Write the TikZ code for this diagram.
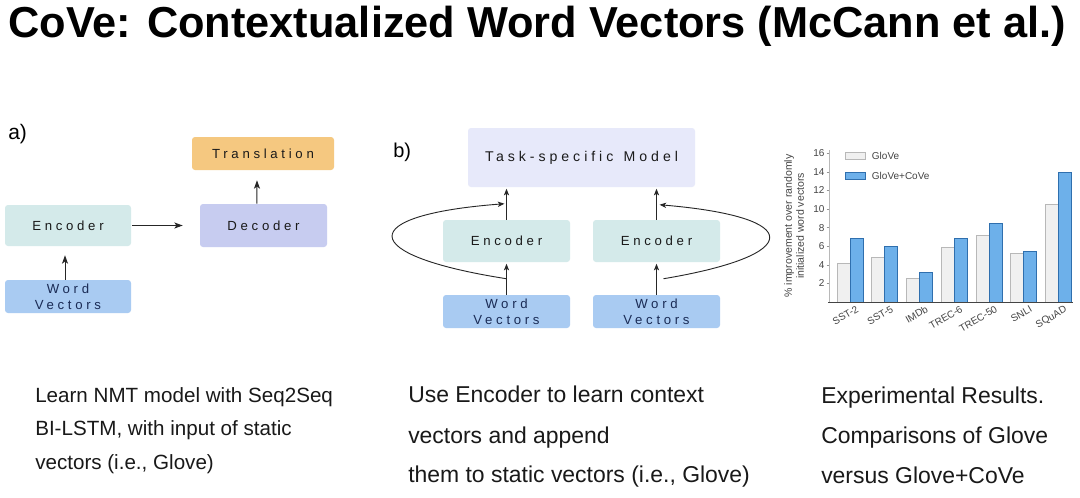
\documentclass[tikz,border=0pt]{standalone}
\usepackage{fontspec}
\setmainfont{Liberation Sans}
\newfontfamily\boxfont[LetterSpace=28]{Liberation Sans}
\usetikzlibrary{arrows.meta,calc}
\newlength{\pxu}\setlength{\pxu}{0.75pt}
\definecolor{encC}{HTML}{D4EAEA}
\definecolor{decC}{HTML}{C7CCF0}
\definecolor{trC}{HTML}{F5C880}
\definecolor{wvC}{HTML}{A9CBF2}
\definecolor{taskC}{HTML}{E7E9FA}
\definecolor{boxtxt}{HTML}{1A1A1A}
\definecolor{wvtxt}{HTML}{1A2B55}
\definecolor{gloveF}{HTML}{F0F0F0}
\definecolor{gloveE}{HTML}{B8B8B8}
\definecolor{coveF}{HTML}{6DB0EA}
\definecolor{coveE}{HTML}{2F6FAE}
\definecolor{axtxt}{HTML}{444444}
\begin{document}
\begin{tikzpicture}[x=0.75pt,y=-0.75pt,
  box/.style={rounded corners=2.25pt, inner sep=0pt, draw=none, text=boxtxt,
    font=\boxfont\fontsize{9.9pt}{12pt}\selectfont, align=center},
  wvbox/.style={box, fill=wvC, text=wvtxt, minimum width=126\pxu, minimum height=33\pxu},
  encbox/.style={box, fill=encC, minimum width=127\pxu, minimum height=42\pxu},
  arr/.style={-{Stealth[length=6.3pt,width=4.5pt,inset=1.6pt]}, line width=0.75pt, draw=black!85},
  arrb/.style={-{Stealth[length=5pt,width=3.9pt,inset=1.3pt]}, line width=0.68pt, draw=black!85},
  glovebar/.style={fill=gloveF, draw=gloveE, line width=0.45pt},
  covebar/.style={fill=coveF, draw=coveE, line width=0.45pt},
  xlab/.style={font=\fontsize{7.5pt}{9pt}\selectfont, text=axtxt, inner sep=0.5pt},
  ytick/.style={font=\fontsize{7.5pt}{9pt}\selectfont, text=axtxt, inner sep=1pt},
  bodytxt/.style={anchor=base west, inner sep=0pt, text=black!90}]
\fill[white] (0,0) rectangle (1080,497);
\useasboundingbox (0,0) rectangle (1080,497);

% title
\node[anchor=base west, inner sep=0pt, font=\bfseries\fontsize{32.5pt}{36pt}\selectfont] (title) at (8,37)
  {CoVe: Contextualized Word Vectors (McCann et al.)};

% ---------- part a
\node[anchor=base west, inner sep=0pt, font=\fontsize{15.75pt}{18pt}\selectfont] (la) at (8,139) {a)};
\node[box, fill=trC, minimum width=142\pxu, minimum height=33\pxu] (trans) at (263,153.5) {Translation};
\node[box, fill=encC, minimum width=126\pxu, minimum height=41\pxu] (enca) at (68,225.5) {Encoder};
\node[box, fill=decC, minimum width=127\pxu, minimum height=43\pxu] (deca) at (263.5,225.5) {Decoder};
\node[wvbox] (wva) at (68,296.5) {Word\\Vectors};
\draw[arr, shorten <=0.75pt, shorten >=12.75pt] (enca) -- (deca);
\draw[arr, shorten >=6.75pt] ([xshift=-2.25pt]wva.north) -- ([xshift=-2.25pt]enca.south);
\draw[arr, shorten >=7.5pt] ([xshift=-4.9pt]deca.north) -- ([xshift=-4.5pt]trans.south);

% ---------- part b
\node[anchor=base west, inner sep=0pt, font=\fontsize{15pt}{18pt}\selectfont] (lb) at (393,157) {b)};
\node[box, fill=taskC, minimum width=227\pxu, minimum height=59\pxu,
  font=\boxfont\fontsize{10.6pt}{12pt}\selectfont] (task) at (581.5,157.5) {Task-specific\ \,Model};
\node[encbox] (encl) at (506.5,241) {Encoder};
\node[encbox] (encr) at (656.5,241) {Encoder};
\node[wvbox, minimum width=127\pxu] (wvl) at (506.5,311.5) {Word\\Vectors};
\node[wvbox, minimum width=127\pxu] (wvr) at (656.5,311.5) {Word\\Vectors};
\draw[arrb, shorten >=1.1pt] (wvl) -- (encl);
\draw[arrb, shorten >=1.1pt] (wvr) -- (encr);
\draw[arrb, shorten >=1.1pt] (encl.north) -- (encl.north |- task.south);
\draw[arrb, shorten >=1.1pt] (encr.north) -- (encr.north |- task.south);
\coordinate (cls) at ($(wvl.north)+(0,-16)$);
\coordinate (cle) at ($(encl.north)+(-2,-16)$);
\coordinate (crs) at ($(wvr.north)+(7,-16)$);
\coordinate (cre) at ($(encr.north)+(3,-15)$);
\draw[arrb] (cls) .. controls (355,255) and (355,215) .. (cle);
\draw[arrb] (crs) .. controls (805,255) and (805,217) .. (cre);

% ---------- chart
\draw[gloveE, line width=0.45pt] (829,150) -- (829,302);
\foreach \v in {2,4,...,16}{
  \node[ytick, anchor=east] (yt\v) at (826,{302-9.3*\v}) {\v};
  \draw[gloveE!80!black, line width=0.45pt] (826.5,{302-9.3*\v}) -- (829,{302-9.3*\v});
}
\foreach \i/\g/\c/\lab in {0/4.2/6.8/SST-2, 1/4.8/6.0/SST-5, 2/2.5/3.2/IMDb, 3/5.9/6.8/TREC-6, 4/7.2/8.5/TREC-50, 5/5.2/5.5/SNLI, 6/10.5/14.0/SQuAD}{
  \pgfmathsetmacro\xl{837+34.7*\i}
  \draw[glovebar] (\xl,302) rectangle ++(13,{-9.3*\g});
  \draw[covebar] ({\xl+13},302) rectangle ++(13,{-9.3*\c});
  \node[xlab, anchor=north east, rotate=30] (xl\i) at ({\xl+19},304) {\lab};
}
\draw[axtxt, line width=0.68pt] (828,302) -- (1073,302);
\node[rotate=90, align=center, inner sep=0pt, text=axtxt,
  font=\fontsize{7.9pt}{9pt}\selectfont] (ylab) at (794,226)
  {\% improvement over randomly\\initialized word vectors};
\draw[glovebar] (845,152) rectangle (865,159);
\node[xlab, anchor=west] (lg1) at (871,155.5) {GloVe};
\draw[covebar] (845,172) rectangle (865,179);
\node[xlab, anchor=west] (lg2) at (871,175.5) {GloVe+CoVe};

% ---------- bottom text
\begin{scope}[every node/.style={bodytxt}]
\node[font=\fontsize{15.45pt}{18pt}\selectfont] (t1a) at (35,402) {Learn NMT model with Seq2Seq};
\node[font=\fontsize{15.45pt}{18pt}\selectfont] (t1b) at (35,435) {BI-LSTM, with input of static};
\node[font=\fontsize{15.45pt}{18pt}\selectfont] (t1c) at (35,469) {vectors (i.e., Glove)};
\node[font=\fontsize{17.2pt}{20pt}\selectfont] (t2a) at (408,402) {Use Encoder to learn context};
\node[font=\fontsize{17.2pt}{20pt}\selectfont] (t2b) at (408,443) {vectors and append};
\node[font=\fontsize{17.2pt}{20pt}\selectfont] (t2c) at (408,482) {them to static vectors (i.e., Glove)};
\node[font=\fontsize{17.2pt}{20pt}\selectfont] (t3a) at (821,403) {Experimental Results.};
\node[font=\fontsize{17.2pt}{20pt}\selectfont] (t3b) at (821,443) {Comparisons of Glove};
\node[font=\fontsize{17.2pt}{20pt}\selectfont] (t3c) at (821,483) {versus Glove+CoVe};
\end{scope}
\end{tikzpicture}
\end{document}
